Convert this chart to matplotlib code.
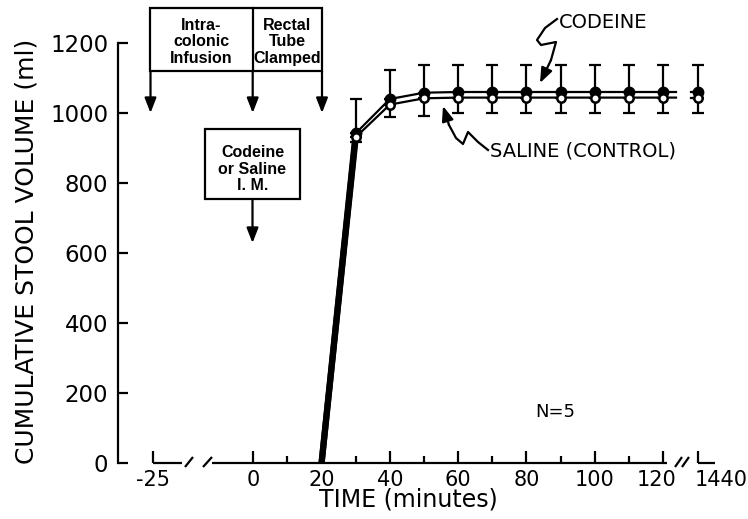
import matplotlib
matplotlib.use("Agg")
import matplotlib.pyplot as plt
import matplotlib.transforms as mtransforms
from matplotlib.patches import Rectangle

# ---------------- data ----------------
time_min = [20, 30, 40, 50, 60, 70, 80, 90, 100, 110, 120, 1440]
codeine = [0, 942, 1040, 1058, 1060, 1060, 1060, 1060, 1060, 1060, 1060, 1060]
codeine_se_up = [0, 98, 83, 79, 77, 77, 77, 77, 77, 77, 77, 77]
saline = [0, 931, 1024, 1042, 1044, 1044, 1044, 1044, 1044, 1044, 1044, 1044]
saline_se_down = [0, 13, 36, 51, 43, 43, 43, 43, 43, 43, 43, 45]

x_major_vals = [-25, 0, 20, 40, 60, 80, 100, 120, 1440]
x_major_labels = ["-25", "0", "20", "40", "60", "80", "100", "120", "1440"]
x_minor_vals = [10, 30, 50, 70, 90, 110]
y_ticks = [0, 200, 400, 600, 800, 1000, 1200]

# broken-axis positions
POS_M25 = -29.5
POS_1440 = 130.3


def pos(t):
    if t < 0:
        return POS_M25
    if t > 120:
        return POS_1440
    return t


# pixel helpers (for annotations only)
X0PX, XSCALE = 253.3, 3.414
Y0PX, YSCALE = 463.0, 0.35


def px(xp, yp):
    return ((xp - X0PX) / XSCALE, (Y0PX - yp) / YSCALE)


W, H = 748, 519
fig = plt.figure(figsize=(W / 100, H / 100), dpi=100)
ax = fig.add_axes([118 / W, 1 - 463 / H, (715 - 118) / W, 420 / H])
ax.set_xlim(px(118, 0)[0], px(715, 0)[0])
ax.set_ylim(0, 1200)

for s in ["top", "right", "bottom"]:
    ax.spines[s].set_visible(False)
ax.spines["left"].set_linewidth(1.6)
ax.spines["left"].set_bounds(0, 1200)

ax.set_yticks(y_ticks)
ax.set_yticklabels([str(v) for v in y_ticks])
ax.tick_params(axis="y", direction="in", length=7, width=1.6, pad=7,
               labelsize=16.5)
ax.set_xticks([pos(v) for v in x_major_vals])
ax.set_xticklabels(x_major_labels)
ax.set_xticks(x_minor_vals, minor=True)
ax.tick_params(axis="x", which="major", direction="in", length=8.5,
               width=1.6, pad=5, labelsize=15)
ax.tick_params(axis="x", which="minor", direction="in", length=5,
               width=1.6)

# nudge crowded labels near the right break
ticks = ax.xaxis.get_major_ticks()
lab120 = ticks[7].label1
lab120.set_transform(lab120.get_transform() +
                     mtransforms.ScaledTranslation(-6 / 100, 0,
                                                   fig.dpi_scale_trans))
lab1440 = ticks[8].label1
lab1440.set_transform(lab1440.get_transform() +
                      mtransforms.ScaledTranslation(23 / 100, 0,
                                                    fig.dpi_scale_trans))

# broken x axis baseline
kw = dict(color="black", lw=1.6, clip_on=False, solid_capstyle="butt")
ax.plot([POS_M25, px(182, 0)[0]], [0, 0], **kw)
ax.plot([px(212, 0)[0], px(667, 0)[0]], [0, 0], **kw)
ax.plot([POS_1440, px(715, 0)[0]], [0, 0], **kw)
for (xa, xb) in [(185, 193), (203, 212), (675, 682), (682, 689)]:
    p1 = px(xa, 467)
    p2 = px(xb, 457)
    ax.plot([p1[0], p2[0]], [p1[1], p2[1]], **kw)

# ------------- series -------------
xs = [pos(t) for t in time_min]
brk = px(676, 0)[0]
stub = px(691, 0)[0]
for vals in (codeine, saline):
    # rising thick segment
    ax.plot(xs[:2], vals[:2], color="black", lw=4.5, solid_capstyle="butt",
            zorder=3)
    ax.plot(xs[1:11] + [brk], vals[1:11] + [vals[10]], color="black", lw=1.6,
            zorder=3)
    ax.plot([stub, xs[11]], [vals[11], vals[11]], color="black", lw=1.6,
            zorder=3)

ax.errorbar(xs[1:], codeine[1:], yerr=[[0] * 11, codeine_se_up[1:]],
            fmt="none", ecolor="black", elinewidth=1.6, capsize=4,
            capthick=1.6, zorder=2)
ax.errorbar(xs[1:], saline[1:], yerr=[saline_se_down[1:], [0] * 11],
            fmt="none", ecolor="black", elinewidth=1.6, capsize=4,
            capthick=1.6, zorder=2)
ax.plot(xs[1:], codeine[1:], "o", color="black", ms=7.5, zorder=4,
        clip_on=False)
ax.plot(xs[1:], saline[1:], "o", mfc="white", mec="black", mew=1.8, ms=6,
        zorder=5, clip_on=False)

# ------------- annotations -------------
box_kw = dict(fill=False, lw=1.6, ec="black", clip_on=False)
bl = px(150.5, 71)
tr = px(322, 8)
ax.add_patch(Rectangle(bl, tr[0] - bl[0], tr[1] - bl[1], **box_kw))
d1, d2 = px(252.7, 71), px(252.7, 8)
ax.plot([d1[0], d2[0]], [d1[1], d2[1]], color="black", lw=1.6, clip_on=False)

arrow_kw = dict(arrowstyle="-|>,head_length=0.9,head_width=0.35",
                color="black", lw=1.6, shrinkA=0, shrinkB=0)
for xa in (150.5, 252.7, 322):
    ax.annotate("", xy=px(xa, 113), xytext=px(xa, 71),
                arrowprops=arrow_kw, annotation_clip=False)

bfont = dict(family="Liberation Sans", weight="bold", fontsize=11.5,
             ha="center", va="center", linespacing=1.1)
ax.text(*px(201, 42), "Intra-\ncolonic\nInfusion", **bfont)
ax.text(*px(287.5, 42), "Rectal\nTube\nClamped", **bfont)

bl2 = px(205, 199)
tr2 = px(300, 129)
ax.add_patch(Rectangle(bl2, tr2[0] - bl2[0], tr2[1] - bl2[1], **box_kw))
ax.text(*px(252.5, 169), "Codeine\nor Saline\nI. M.", **bfont)
ax.annotate("", xy=px(252.5, 243), xytext=px(252.5, 199),
            arrowprops=arrow_kw, annotation_clip=False)

# squiggly label arrows
lab_font = dict(family="DejaVu Sans", fontsize=14, va="center")
ax.text(*px(559, 23), "CODEINE", ha="left", **lab_font)
cpts = [px(557, 19), px(545, 28), px(537, 40), px(541, 45), px(556, 42),
        px(551, 60)]
ax.plot([p[0] for p in cpts], [p[1] for p in cpts], color="black", lw=1.6,
        clip_on=False)
ax.annotate("", xy=px(540, 83), xytext=px(551, 60), arrowprops=arrow_kw,
            annotation_clip=False)

ax.text(*px(490, 151), "SALINE (CONTROL)", ha="left", **lab_font)
spts = [px(488, 150), px(478, 142), px(468, 132), px(463, 144), px(456, 138),
        px(449, 125)]
ax.plot([p[0] for p in spts], [p[1] for p in spts], color="black", lw=1.6,
        clip_on=False)
ax.annotate("", xy=px(443, 106), xytext=px(449, 125), arrowprops=arrow_kw,
            annotation_clip=False)

ax.text(*px(555, 412), "N=5", ha="center", family="DejaVu Sans",
        fontsize=13, va="center")

fig.text(27 / W, 1 - 251 / H, "CUMULATIVE STOOL VOLUME (ml)", rotation=90,
         ha="center", va="center", fontsize=18, family="DejaVu Sans")
fig.text(408 / W, 1 - 500 / H, "TIME (minutes)", ha="center", va="center",
         fontsize=17, family="DejaVu Sans")

fig.savefig("out.png", dpi=100)
